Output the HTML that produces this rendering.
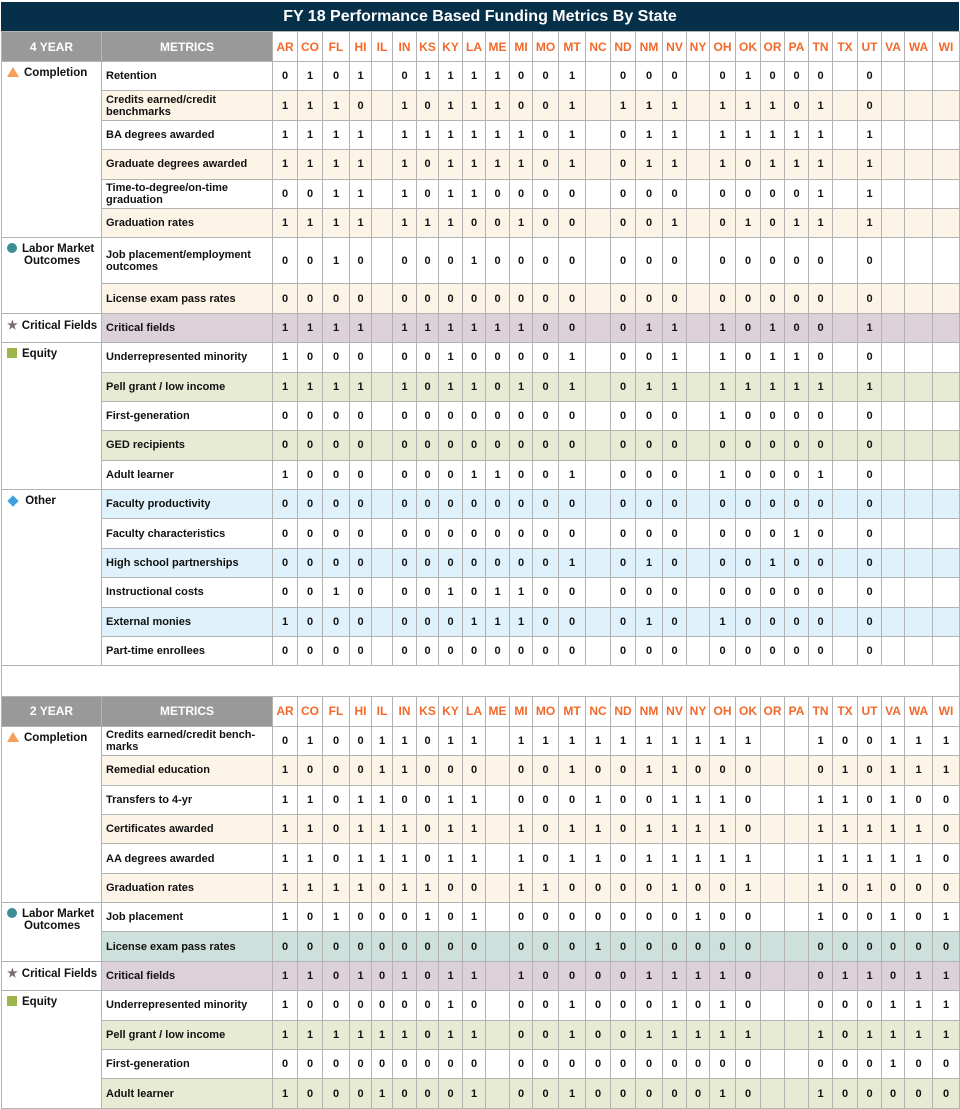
<!DOCTYPE html>
<html><head><meta charset="utf-8"><style>
*{box-sizing:border-box;margin:0;padding:0}
body{width:960px;height:1108px;background:#fff;font-family:"Liberation Sans",Arial,sans-serif;font-weight:bold;color:#111;overflow:hidden}
.title{position:absolute;left:1px;top:2px;width:958px;height:29px;background:#06304a;color:#fff;font-size:16px;text-align:center;line-height:29px}
table{position:absolute;left:1px;top:31px;width:959px;border-collapse:collapse;table-layout:fixed}
td,th{border:1px solid #b3b3b3;font-size:11px;text-align:center;vertical-align:middle;padding:0;overflow:hidden}
th{font-size:12px;color:#f2692c;background:#fff}
th.g{background:#999;color:#fff;font-size:12px}
td.m{text-align:left;padding-left:4px;font-size:11px;line-height:12px}
td.c{text-align:left;vertical-align:top;padding:5px 0 0 5px;font-size:11.5px;background:#fff;line-height:12px}
tr.r{height:29.4px}
tr.s{height:29.38px}
tr.o td{background:#fdf4e8}
tr.v td{background:#dcd0d9}
tr.e td{background:#e7ebd4}
tr.b td{background:#dff1fb}
tr.t td{background:#cde0dc}
tr td.c{background:#fff}
.i{display:inline-block;margin-right:5px;vertical-align:-1px}
.tri{width:0;height:0;border-left:6px solid transparent;border-right:6px solid transparent;border-bottom:10px solid #f5a05a}
.dot{width:10px;height:10px;border-radius:50%;background:#3c8e96}
.sq{width:10px;height:10px;background:#9db54a}
.dia{width:8px;height:8px;background:#3fa0e0;transform:rotate(45deg);margin-left:2px}
.star{color:#7a6c74;font-size:12px;margin-right:4px}
.ind{display:inline-block;padding-left:17px;text-indent:-17px}
</style></head><body>
<div class="title">FY 18 Performance Based Funding Metrics By State</div>
<table>
<colgroup><col style="width:100px"><col style="width:171px"><col style="width:25px"><col style="width:25px"><col style="width:27px"><col style="width:22px"><col style="width:21px"><col style="width:24px"><col style="width:22px"><col style="width:24px"><col style="width:23px"><col style="width:24px"><col style="width:23px"><col style="width:26px"><col style="width:27px"><col style="width:25px"><col style="width:25px"><col style="width:27px"><col style="width:24px"><col style="width:23px"><col style="width:26px"><col style="width:25px"><col style="width:24px"><col style="width:24px"><col style="width:24px"><col style="width:25px"><col style="width:24px"><col style="width:23px"><col style="width:28px"><col style="width:27px"></colgroup>
<tr style="height:30px"><th class="g">4 YEAR</th><th class="g">METRICS</th><th>AR</th><th>CO</th><th>FL</th><th>HI</th><th>IL</th><th>IN</th><th>KS</th><th>KY</th><th>LA</th><th>ME</th><th>MI</th><th>MO</th><th>MT</th><th>NC</th><th>ND</th><th>NM</th><th>NV</th><th>NY</th><th>OH</th><th>OK</th><th>OR</th><th>PA</th><th>TN</th><th>TX</th><th>UT</th><th>VA</th><th>WA</th><th>WI</th></tr>
<tr class="r"><td class="c" rowspan="6"><span class="i tri"></span>Completion</td><td class="m">Retention</td><td>0</td><td>1</td><td>0</td><td>1</td><td></td><td>0</td><td>1</td><td>1</td><td>1</td><td>1</td><td>0</td><td>0</td><td>1</td><td></td><td>0</td><td>0</td><td>0</td><td></td><td>0</td><td>1</td><td>0</td><td>0</td><td>0</td><td></td><td>0</td><td></td><td></td><td></td></tr>
<tr class="r o"><td class="m">Credits earned/credit benchmarks</td><td>1</td><td>1</td><td>1</td><td>0</td><td></td><td>1</td><td>0</td><td>1</td><td>1</td><td>1</td><td>0</td><td>0</td><td>1</td><td></td><td>1</td><td>1</td><td>1</td><td></td><td>1</td><td>1</td><td>1</td><td>0</td><td>1</td><td></td><td>0</td><td></td><td></td><td></td></tr>
<tr class="r"><td class="m">BA degrees awarded</td><td>1</td><td>1</td><td>1</td><td>1</td><td></td><td>1</td><td>1</td><td>1</td><td>1</td><td>1</td><td>1</td><td>0</td><td>1</td><td></td><td>0</td><td>1</td><td>1</td><td></td><td>1</td><td>1</td><td>1</td><td>1</td><td>1</td><td></td><td>1</td><td></td><td></td><td></td></tr>
<tr class="r o"><td class="m">Graduate degrees awarded</td><td>1</td><td>1</td><td>1</td><td>1</td><td></td><td>1</td><td>0</td><td>1</td><td>1</td><td>1</td><td>1</td><td>0</td><td>1</td><td></td><td>0</td><td>1</td><td>1</td><td></td><td>1</td><td>0</td><td>1</td><td>1</td><td>1</td><td></td><td>1</td><td></td><td></td><td></td></tr>
<tr class="r"><td class="m">Time-to-degree/on-time graduation</td><td>0</td><td>0</td><td>1</td><td>1</td><td></td><td>1</td><td>0</td><td>1</td><td>1</td><td>0</td><td>0</td><td>0</td><td>0</td><td></td><td>0</td><td>0</td><td>0</td><td></td><td>0</td><td>0</td><td>0</td><td>0</td><td>1</td><td></td><td>1</td><td></td><td></td><td></td></tr>
<tr class="r o"><td class="m">Graduation rates</td><td>1</td><td>1</td><td>1</td><td>1</td><td></td><td>1</td><td>1</td><td>1</td><td>0</td><td>0</td><td>1</td><td>0</td><td>0</td><td></td><td>0</td><td>0</td><td>1</td><td></td><td>0</td><td>1</td><td>0</td><td>1</td><td>1</td><td></td><td>1</td><td></td><td></td><td></td></tr>
<tr style="height:46px"><td class="c" rowspan="2"><span class="ind"><span class="i dot"></span>Labor Market Outcomes</span></td><td class="m">Job placement/employment outcomes</td><td>0</td><td>0</td><td>1</td><td>0</td><td></td><td>0</td><td>0</td><td>0</td><td>1</td><td>0</td><td>0</td><td>0</td><td>0</td><td></td><td>0</td><td>0</td><td>0</td><td></td><td>0</td><td>0</td><td>0</td><td>0</td><td>0</td><td></td><td>0</td><td></td><td></td><td></td></tr>
<tr class="r o"><td class="m">License exam pass rates</td><td>0</td><td>0</td><td>0</td><td>0</td><td></td><td>0</td><td>0</td><td>0</td><td>0</td><td>0</td><td>0</td><td>0</td><td>0</td><td></td><td>0</td><td>0</td><td>0</td><td></td><td>0</td><td>0</td><td>0</td><td>0</td><td>0</td><td></td><td>0</td><td></td><td></td><td></td></tr>
<tr class="r v"><td class="c"><span class="star">★</span>Critical Fields</td><td class="m">Critical fields</td><td>1</td><td>1</td><td>1</td><td>1</td><td></td><td>1</td><td>1</td><td>1</td><td>1</td><td>1</td><td>1</td><td>0</td><td>0</td><td></td><td>0</td><td>1</td><td>1</td><td></td><td>1</td><td>0</td><td>1</td><td>0</td><td>0</td><td></td><td>1</td><td></td><td></td><td></td></tr>
<tr class="r"><td class="c" rowspan="5"><span class="i sq"></span>Equity</td><td class="m">Underrepresented minority</td><td>1</td><td>0</td><td>0</td><td>0</td><td></td><td>0</td><td>0</td><td>1</td><td>0</td><td>0</td><td>0</td><td>0</td><td>1</td><td></td><td>0</td><td>0</td><td>1</td><td></td><td>1</td><td>0</td><td>1</td><td>1</td><td>0</td><td></td><td>0</td><td></td><td></td><td></td></tr>
<tr class="r e"><td class="m">Pell grant / low income</td><td>1</td><td>1</td><td>1</td><td>1</td><td></td><td>1</td><td>0</td><td>1</td><td>1</td><td>0</td><td>1</td><td>0</td><td>1</td><td></td><td>0</td><td>1</td><td>1</td><td></td><td>1</td><td>1</td><td>1</td><td>1</td><td>1</td><td></td><td>1</td><td></td><td></td><td></td></tr>
<tr class="r"><td class="m">First-generation</td><td>0</td><td>0</td><td>0</td><td>0</td><td></td><td>0</td><td>0</td><td>0</td><td>0</td><td>0</td><td>0</td><td>0</td><td>0</td><td></td><td>0</td><td>0</td><td>0</td><td></td><td>1</td><td>0</td><td>0</td><td>0</td><td>0</td><td></td><td>0</td><td></td><td></td><td></td></tr>
<tr class="r e"><td class="m">GED recipients</td><td>0</td><td>0</td><td>0</td><td>0</td><td></td><td>0</td><td>0</td><td>0</td><td>0</td><td>0</td><td>0</td><td>0</td><td>0</td><td></td><td>0</td><td>0</td><td>0</td><td></td><td>0</td><td>0</td><td>0</td><td>0</td><td>0</td><td></td><td>0</td><td></td><td></td><td></td></tr>
<tr class="r"><td class="m">Adult learner</td><td>1</td><td>0</td><td>0</td><td>0</td><td></td><td>0</td><td>0</td><td>0</td><td>1</td><td>1</td><td>0</td><td>0</td><td>1</td><td></td><td>0</td><td>0</td><td>0</td><td></td><td>1</td><td>0</td><td>0</td><td>0</td><td>1</td><td></td><td>0</td><td></td><td></td><td></td></tr>
<tr class="r b"><td class="c" rowspan="6"><span class="i dia"></span> Other</td><td class="m">Faculty productivity</td><td>0</td><td>0</td><td>0</td><td>0</td><td></td><td>0</td><td>0</td><td>0</td><td>0</td><td>0</td><td>0</td><td>0</td><td>0</td><td></td><td>0</td><td>0</td><td>0</td><td></td><td>0</td><td>0</td><td>0</td><td>0</td><td>0</td><td></td><td>0</td><td></td><td></td><td></td></tr>
<tr class="r"><td class="m">Faculty characteristics</td><td>0</td><td>0</td><td>0</td><td>0</td><td></td><td>0</td><td>0</td><td>0</td><td>0</td><td>0</td><td>0</td><td>0</td><td>0</td><td></td><td>0</td><td>0</td><td>0</td><td></td><td>0</td><td>0</td><td>0</td><td>1</td><td>0</td><td></td><td>0</td><td></td><td></td><td></td></tr>
<tr class="r b"><td class="m">High school partnerships</td><td>0</td><td>0</td><td>0</td><td>0</td><td></td><td>0</td><td>0</td><td>0</td><td>0</td><td>0</td><td>0</td><td>0</td><td>1</td><td></td><td>0</td><td>1</td><td>0</td><td></td><td>0</td><td>0</td><td>1</td><td>0</td><td>0</td><td></td><td>0</td><td></td><td></td><td></td></tr>
<tr class="r"><td class="m">Instructional costs</td><td>0</td><td>0</td><td>1</td><td>0</td><td></td><td>0</td><td>0</td><td>1</td><td>0</td><td>1</td><td>1</td><td>0</td><td>0</td><td></td><td>0</td><td>0</td><td>0</td><td></td><td>0</td><td>0</td><td>0</td><td>0</td><td>0</td><td></td><td>0</td><td></td><td></td><td></td></tr>
<tr class="r b"><td class="m">External monies</td><td>1</td><td>0</td><td>0</td><td>0</td><td></td><td>0</td><td>0</td><td>0</td><td>1</td><td>1</td><td>1</td><td>0</td><td>0</td><td></td><td>0</td><td>1</td><td>0</td><td></td><td>1</td><td>0</td><td>0</td><td>0</td><td>0</td><td></td><td>0</td><td></td><td></td><td></td></tr>
<tr class="r"><td class="m">Part-time enrollees</td><td>0</td><td>0</td><td>0</td><td>0</td><td></td><td>0</td><td>0</td><td>0</td><td>0</td><td>0</td><td>0</td><td>0</td><td>0</td><td></td><td>0</td><td>0</td><td>0</td><td></td><td>0</td><td>0</td><td>0</td><td>0</td><td>0</td><td></td><td>0</td><td></td><td></td><td></td></tr>
<tr style="height:30.4px"><td colspan="30" style="background:#fff"></td></tr>
<tr style="height:30px"><th class="g">2 YEAR</th><th class="g">METRICS</th><th>AR</th><th>CO</th><th>FL</th><th>HI</th><th>IL</th><th>IN</th><th>KS</th><th>KY</th><th>LA</th><th>ME</th><th>MI</th><th>MO</th><th>MT</th><th>NC</th><th>ND</th><th>NM</th><th>NV</th><th>NY</th><th>OH</th><th>OK</th><th>OR</th><th>PA</th><th>TN</th><th>TX</th><th>UT</th><th>VA</th><th>WA</th><th>WI</th></tr>
<tr class="s"><td class="c" rowspan="6"><span class="i tri"></span>Completion</td><td class="m">Credits earned/credit bench-marks</td><td>0</td><td>1</td><td>0</td><td>0</td><td>1</td><td>1</td><td>0</td><td>1</td><td>1</td><td></td><td>1</td><td>1</td><td>1</td><td>1</td><td>1</td><td>1</td><td>1</td><td>1</td><td>1</td><td>1</td><td></td><td></td><td>1</td><td>0</td><td>0</td><td>1</td><td>1</td><td>1</td></tr>
<tr class="s o"><td class="m">Remedial education</td><td>1</td><td>0</td><td>0</td><td>0</td><td>1</td><td>1</td><td>0</td><td>0</td><td>0</td><td></td><td>0</td><td>0</td><td>1</td><td>0</td><td>0</td><td>1</td><td>1</td><td>0</td><td>0</td><td>0</td><td></td><td></td><td>0</td><td>1</td><td>0</td><td>1</td><td>1</td><td>1</td></tr>
<tr class="s"><td class="m">Transfers to 4-yr</td><td>1</td><td>1</td><td>0</td><td>1</td><td>1</td><td>0</td><td>0</td><td>1</td><td>1</td><td></td><td>0</td><td>0</td><td>0</td><td>1</td><td>0</td><td>0</td><td>1</td><td>1</td><td>1</td><td>0</td><td></td><td></td><td>1</td><td>1</td><td>0</td><td>1</td><td>0</td><td>0</td></tr>
<tr class="s o"><td class="m">Certificates awarded</td><td>1</td><td>1</td><td>0</td><td>1</td><td>1</td><td>1</td><td>0</td><td>1</td><td>1</td><td></td><td>1</td><td>0</td><td>1</td><td>1</td><td>0</td><td>1</td><td>1</td><td>1</td><td>1</td><td>0</td><td></td><td></td><td>1</td><td>1</td><td>1</td><td>1</td><td>1</td><td>0</td></tr>
<tr class="s"><td class="m">AA degrees awarded</td><td>1</td><td>1</td><td>0</td><td>1</td><td>1</td><td>1</td><td>0</td><td>1</td><td>1</td><td></td><td>1</td><td>0</td><td>1</td><td>1</td><td>0</td><td>1</td><td>1</td><td>1</td><td>1</td><td>1</td><td></td><td></td><td>1</td><td>1</td><td>1</td><td>1</td><td>1</td><td>0</td></tr>
<tr class="s o"><td class="m">Graduation rates</td><td>1</td><td>1</td><td>1</td><td>1</td><td>0</td><td>1</td><td>1</td><td>0</td><td>0</td><td></td><td>1</td><td>1</td><td>0</td><td>0</td><td>0</td><td>0</td><td>1</td><td>0</td><td>0</td><td>1</td><td></td><td></td><td>1</td><td>0</td><td>1</td><td>0</td><td>0</td><td>0</td></tr>
<tr class="s"><td class="c" rowspan="2"><span class="ind"><span class="i dot"></span>Labor Market Outcomes</span></td><td class="m">Job placement</td><td>1</td><td>0</td><td>1</td><td>0</td><td>0</td><td>0</td><td>1</td><td>0</td><td>1</td><td></td><td>0</td><td>0</td><td>0</td><td>0</td><td>0</td><td>0</td><td>0</td><td>1</td><td>0</td><td>0</td><td></td><td></td><td>1</td><td>0</td><td>0</td><td>1</td><td>0</td><td>1</td></tr>
<tr class="s t"><td class="m">License exam pass rates</td><td>0</td><td>0</td><td>0</td><td>0</td><td>0</td><td>0</td><td>0</td><td>0</td><td>0</td><td></td><td>0</td><td>0</td><td>0</td><td>1</td><td>0</td><td>0</td><td>0</td><td>0</td><td>0</td><td>0</td><td></td><td></td><td>0</td><td>0</td><td>0</td><td>0</td><td>0</td><td>0</td></tr>
<tr class="s v"><td class="c"><span class="star">★</span>Critical Fields</td><td class="m">Critical fields</td><td>1</td><td>1</td><td>0</td><td>1</td><td>0</td><td>1</td><td>0</td><td>1</td><td>1</td><td></td><td>1</td><td>0</td><td>0</td><td>0</td><td>0</td><td>1</td><td>1</td><td>1</td><td>1</td><td>0</td><td></td><td></td><td>0</td><td>1</td><td>1</td><td>0</td><td>1</td><td>1</td></tr>
<tr class="s"><td class="c" rowspan="4"><span class="i sq"></span>Equity</td><td class="m">Underrepresented minority</td><td>1</td><td>0</td><td>0</td><td>0</td><td>0</td><td>0</td><td>0</td><td>1</td><td>0</td><td></td><td>0</td><td>0</td><td>1</td><td>0</td><td>0</td><td>0</td><td>1</td><td>0</td><td>1</td><td>0</td><td></td><td></td><td>0</td><td>0</td><td>0</td><td>1</td><td>1</td><td>1</td></tr>
<tr class="s e"><td class="m">Pell grant / low income</td><td>1</td><td>1</td><td>1</td><td>1</td><td>1</td><td>1</td><td>0</td><td>1</td><td>1</td><td></td><td>0</td><td>0</td><td>1</td><td>0</td><td>0</td><td>1</td><td>1</td><td>1</td><td>1</td><td>1</td><td></td><td></td><td>1</td><td>0</td><td>1</td><td>1</td><td>1</td><td>1</td></tr>
<tr class="s"><td class="m">First-generation</td><td>0</td><td>0</td><td>0</td><td>0</td><td>0</td><td>0</td><td>0</td><td>0</td><td>0</td><td></td><td>0</td><td>0</td><td>0</td><td>0</td><td>0</td><td>0</td><td>0</td><td>0</td><td>0</td><td>0</td><td></td><td></td><td>0</td><td>0</td><td>0</td><td>1</td><td>0</td><td>0</td></tr>
<tr class="s e"><td class="m">Adult learner</td><td>1</td><td>0</td><td>0</td><td>0</td><td>1</td><td>0</td><td>0</td><td>0</td><td>1</td><td></td><td>0</td><td>0</td><td>1</td><td>0</td><td>0</td><td>0</td><td>0</td><td>0</td><td>1</td><td>0</td><td></td><td></td><td>1</td><td>0</td><td>0</td><td>0</td><td>0</td><td>0</td></tr>
</table>
</body></html>
